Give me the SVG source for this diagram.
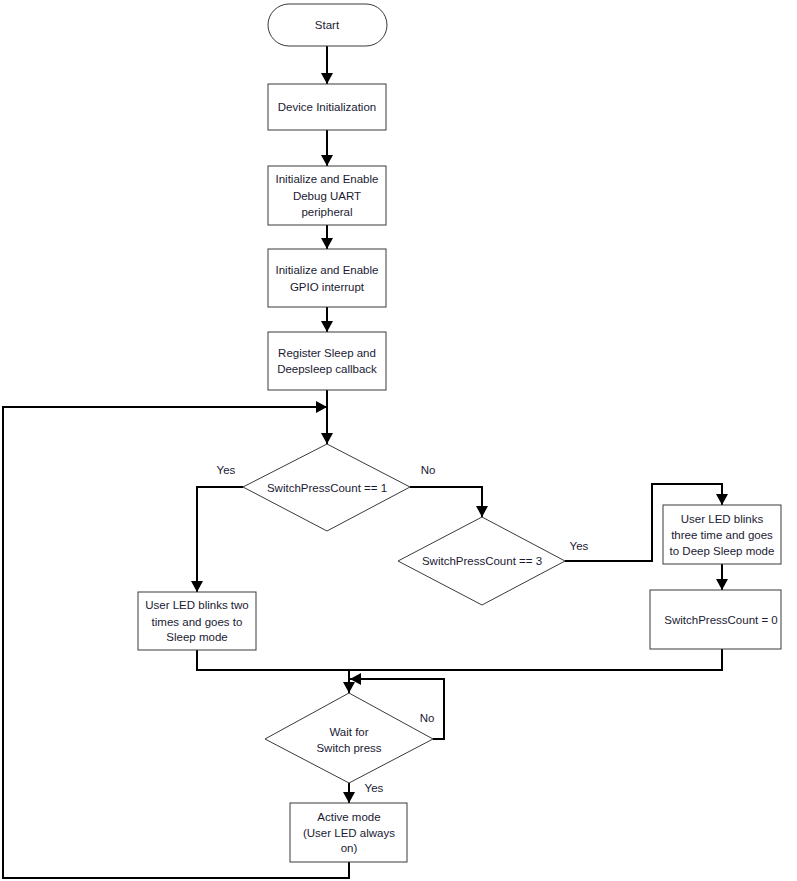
<svg xmlns="http://www.w3.org/2000/svg" width="797" height="881" viewBox="0 0 797 881">
<style>
.box{fill:#ffffff;stroke:#3a3a3a;stroke-width:1}
.t{font-family:"Liberation Sans",Arial,sans-serif;font-size:11.5px;fill:#1a1a33;text-anchor:middle}
.c{fill:none;stroke:#000000;stroke-width:2}
</style>
<defs>
<marker id="ah" viewBox="0 0 11 12" refX="11" refY="6" markerWidth="11" markerHeight="12" markerUnits="userSpaceOnUse" orient="auto">
<path d="M0,0 L11,6 L0,12 z" fill="#000000"/>
</marker>
</defs>
<rect width="797" height="881" fill="#ffffff"/>
<g id="connectors">
<path class="c" d="M327,46 V84" marker-end="url(#ah)"/>
<path class="c" d="M327,130 V166" marker-end="url(#ah)"/>
<path class="c" d="M327,225 V249" marker-end="url(#ah)"/>
<path class="c" d="M327,307 V332" marker-end="url(#ah)"/>
<path class="c" d="M327,390 V444" marker-end="url(#ah)"/>
<path class="c" d="M349,862 V878 H3 V407 H327" marker-end="url(#ah)"/>
<path class="c" d="M243,487 H197 V592" marker-end="url(#ah)"/>
<path class="c" d="M410,487 H482 V517" marker-end="url(#ah)"/>
<path class="c" d="M565,561 H652 V484 H722 V505" marker-end="url(#ah)"/>
<path class="c" d="M722,564 V590" marker-end="url(#ah)"/>
<path class="c" d="M197,650 V670 H722 V649"/>
<path class="c" d="M349,670 V693" marker-end="url(#ah)"/>
<path class="c" d="M433,739 H444 V679 H350" marker-end="url(#ah)"/>
<path class="c" d="M349,783 V803" marker-end="url(#ah)"/>
</g>
<g id="start">
<rect class="box" x="268" y="4" width="119" height="42" rx="21" ry="21"/>
<text class="t" x="327" y="29">Start</text>
</g>
<g id="device-init">
<rect class="box" x="268" y="84" width="118" height="46"/>
<text class="t" x="327" y="111">Device Initialization</text>
</g>
<g id="uart-init">
<rect class="box" x="268" y="166" width="118" height="59"/>
<text class="t" x="327" y="183">Initialize and Enable</text>
<text class="t" x="327" y="200">Debug UART</text>
<text class="t" x="327" y="216">peripheral</text>
</g>
<g id="gpio-init">
<rect class="box" x="268" y="249" width="118" height="58"/>
<text class="t" x="327" y="274">Initialize and Enable</text>
<text class="t" x="327" y="291">GPIO interrupt</text>
</g>
<g id="register-cb">
<rect class="box" x="268" y="332" width="118" height="58"/>
<text class="t" x="327" y="357">Register Sleep and</text>
<text class="t" x="327" y="373">Deepsleep callback</text>
</g>
<g id="decision-1">
<polygon class="box" points="327,444 410,487 327,531 243,487"/>
<text class="t" x="327" y="492">SwitchPressCount == 1</text>
<text class="t" x="226" y="474">Yes</text>
<text class="t" x="428" y="474">No</text>
</g>
<g id="decision-3">
<polygon class="box" points="482,517 565,561 482,605 398,561"/>
<text class="t" x="482" y="565">SwitchPressCount == 3</text>
<text class="t" x="579" y="550">Yes</text>
</g>
<g id="sleep-mode">
<rect class="box" x="138" y="592" width="118" height="58"/>
<text class="t" x="197" y="609">User LED blinks two</text>
<text class="t" x="197" y="626">times and goes to</text>
<text class="t" x="197" y="641">Sleep mode</text>
</g>
<g id="deep-sleep-mode">
<rect class="box" x="663" y="505" width="118" height="59"/>
<text class="t" x="722" y="523">User LED blinks</text>
<text class="t" x="722" y="539">three time and goes</text>
<text class="t" x="722" y="555">to Deep Sleep mode</text>
</g>
<g id="reset-count">
<rect class="box" x="650" y="590" width="131" height="59"/>
<text class="t" x="721" y="624">SwitchPressCount = 0</text>
</g>
<g id="wait-switch">
<polygon class="box" points="349,693 433,739 349,783 265,739"/>
<text class="t" x="349" y="736">Wait for</text>
<text class="t" x="349" y="752">Switch press</text>
<text class="t" x="427" y="722">No</text>
<text class="t" x="374" y="792">Yes</text>
</g>
<g id="active-mode">
<rect class="box" x="290" y="803" width="117" height="59"/>
<text class="t" x="349" y="821">Active mode</text>
<text class="t" x="349" y="837">(User LED always</text>
<text class="t" x="349" y="852">on)</text>
</g>
</svg>
